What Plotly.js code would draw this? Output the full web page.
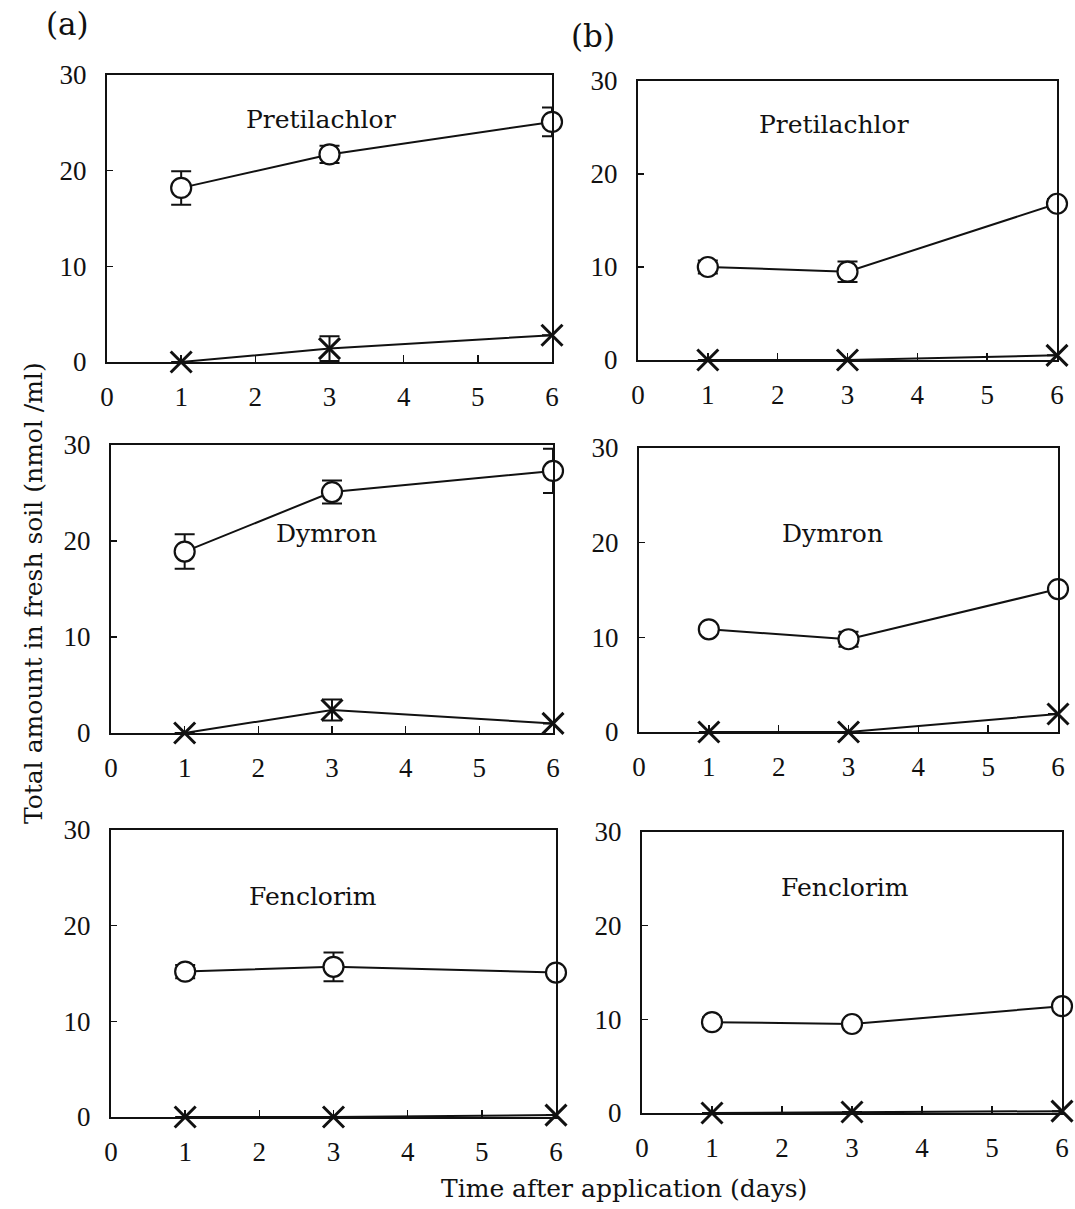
<!DOCTYPE html>
<html>
<head>
<meta charset="utf-8">
<script src="https://cdn.plot.ly/plotly-3.0.1.min.js"></script>
<style>html,body{margin:0;padding:0;background:#fff;}#chart{width:1075px;height:1209px;}</style>
</head>
<body>
<div id="chart"></div>
<script>
// ---- data ----
const days = [1, 3, 6];
const xTicks = [0, 1, 2, 3, 4, 5, 6];
const yTicks = [0, 10, 20, 30];

const herbicides = ["Pretilachlor", "Dymron", "Fenclorim"];

// (a) column
const aPretiCircle = [18.2, 21.7, 25.1];
const aPretiCircleErr = [1.75, 0.9, 1.5];
const aPretiCross = [0, 1.4, 2.8];
const aPretiCrossErr = [0, 1.3, 0];

const aDymCircle = [18.9, 25.1, 27.3];
const aDymCircleErr = [1.8, 1.2, 2.3];
const aDymCross = [0, 2.4, 1.0];
const aDymCrossErr = [0, 1.1, 0];

const aFenCircle = [15.2, 15.7, 15.1];
const aFenCircleErr = [0.7, 1.5, 0.3];
const aFenCross = [0, 0, 0.2];
const aFenCrossErr = [0, 0, 0];

// (b) column
const bPretiCircle = [10.0, 9.5, 16.8];
const bPretiCircleErr = [0.7, 1.1, 0.5];
const bPretiCross = [0, 0, 0.5];
const bPretiCrossErr = [0, 0, 0];

const bDymCircle = [10.85, 9.8, 15.1];
const bDymCircleErr = [0.3, 0.8, 0.3];
const bDymCross = [0, 0, 1.9];
const bDymCrossErr = [0, 0, 0];

const bFenCircle = [9.7, 9.5, 11.4];
const bFenCircleErr = [0.5, 0.3, 0.3];
const bFenCross = [0, 0.1, 0.2];
const bFenCrossErr = [0, 0, 0];

// ---- build ----
const panels = [
  {circ: aPretiCircle, cerr: aPretiCircleErr, cross: aPretiCross, xerr: aPretiCrossErr, name: herbicides[0], lx: 2.89, ly: 25.3},
  {circ: bPretiCircle, cerr: bPretiCircleErr, cross: bPretiCross, xerr: bPretiCrossErr, name: herbicides[0], lx: 2.8, ly: 25.3},
  {circ: aDymCircle, cerr: aDymCircleErr, cross: aDymCross, xerr: aDymCrossErr, name: herbicides[1], lx: 2.92, ly: 20.8},
  {circ: bDymCircle, cerr: bDymCircleErr, cross: bDymCross, xerr: bDymCrossErr, name: herbicides[1], lx: 2.77, ly: 21.0},
  {circ: aFenCircle, cerr: aFenCircleErr, cross: aFenCross, xerr: aFenCrossErr, name: herbicides[2], lx: 2.73, ly: 23.0},
  {circ: bFenCircle, cerr: bFenCircleErr, cross: bFenCross, xerr: bFenCrossErr, name: herbicides[2], lx: 2.9, ly: 24.1}
];

// pixel boxes [left, right, top, bottom]
const boxes = [
  [107, 552, 75, 362],
  [638, 1057, 81, 360],
  [111, 553, 445, 733],
  [639, 1058, 448, 732],
  [111, 556, 830, 1117],
  [642, 1062, 832, 1113]
];
const W = 1075, H = 1209;

const tickFont = {family: "Liberation Serif, Times New Roman, serif", size: 27, color: "#111"};
const textFont = {family: "DejaVu Serif, serif", size: 25, color: "#111"};

const traces = [];
const layout = {
  width: W, height: H,
  margin: {l: 0, r: 0, t: 0, b: 0},
  paper_bgcolor: "#fff", plot_bgcolor: "#fff",
  showlegend: false,
  annotations: [],
  font: tickFont
};

panels.forEach((p, i) => {
  const n = i === 0 ? "" : String(i + 1);
  const xa = "x" + n, ya = "y" + n;
  const common = {
    type: "scatter", mode: "lines+markers", x: days, xaxis: xa, yaxis: ya,
    cliponaxis: false, hoverinfo: "skip",
    line: {color: "#111", width: 2}
  };
  traces.push(Object.assign({}, common, {
    y: p.cross,
    error_y: {type: "data", array: p.xerr, visible: true, color: "#111", thickness: 2, width: 10},
    marker: {symbol: "x-thin-open", size: 21, color: "#111", line: {color: "#111", width: 3}}
  }));
  traces.push(Object.assign({}, common, {
    y: p.circ,
    error_y: {type: "data", array: p.cerr, visible: true, color: "#111", thickness: 2, width: 10},
    marker: {symbol: "circle", size: 20, color: "#fff", line: {color: "#111", width: 2.2}}
  }));
  const b = boxes[i];
  layout["xaxis" + n] = {
    domain: [b[0] / W, b[1] / W], anchor: ya, range: [0, 6],
    tickvals: xTicks, ticktext: xTicks.map(String),
    ticks: "inside", ticklen: 7, tickwidth: 1.5, tickcolor: "#111",
    showline: true, linewidth: 2, linecolor: "#111", mirror: true,
    showgrid: false, zeroline: false, tickfont: tickFont, ticklabelstandoff: 10,
    fixedrange: true
  };
  layout["yaxis" + n] = {
    domain: [1 - b[3] / H, 1 - b[2] / H], anchor: xa, range: [0, 30],
    tickvals: yTicks, ticktext: yTicks.map(String),
    ticks: "inside", ticklen: 6, tickwidth: 1.5, tickcolor: "#111",
    showline: true, linewidth: 2, linecolor: "#111", mirror: true,
    showgrid: false, zeroline: false, tickfont: tickFont, ticklabelstandoff: 13,
    fixedrange: true
  };
  layout.annotations.push({
    text: p.name, x: p.lx, y: p.ly, xref: xa, yref: ya,
    showarrow: false, font: textFont, xanchor: "center", yanchor: "middle"
  });
});

layout.annotations.push(
  {text: "(a)", x: 67 / W, y: 1 - 24 / H, xref: "paper", yref: "paper", showarrow: false,
   font: {family: "DejaVu Serif, serif", size: 31, color: "#111"}, xanchor: "center", yanchor: "middle"},
  {text: "(b)", x: 593 / W, y: 1 - 36 / H, xref: "paper", yref: "paper", showarrow: false,
   font: {family: "DejaVu Serif, serif", size: 31, color: "#111"}, xanchor: "center", yanchor: "middle"},
  {text: "Total amount in fresh soil (nmol /ml)", x: 33 / W, y: 1 - 593 / H, xref: "paper", yref: "paper",
   showarrow: false, textangle: -90, font: textFont, xanchor: "center", yanchor: "middle"},
  {text: "Time after application (days)", x: 624 / W, y: 1 - 1188 / H, xref: "paper", yref: "paper",
   showarrow: false, font: textFont, xanchor: "center", yanchor: "middle"}
);

Plotly.newPlot("chart", traces, layout, {staticPlot: true, displayModeBar: false});
</script>
</body>
</html>
